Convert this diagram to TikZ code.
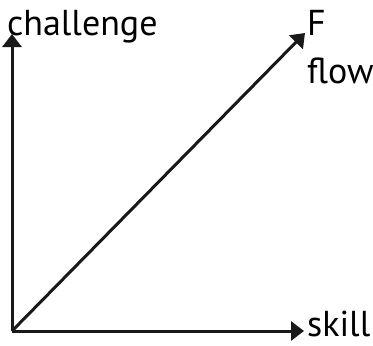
\documentclass[tikz,border=0pt]{standalone}
\usepackage{fontspec}
\setmainfont{PT Sans}
\usetikzlibrary{arrows.meta}

\begin{document}
\begin{tikzpicture}[x=1pt,y=-1pt,
    axis/.style={line width=3pt,color=black!90,-{Triangle[length=13pt,width=19pt]}},
    lbl/.style={anchor=base west,inner sep=0pt,font=\fontsize{36}{42}\selectfont}]
\useasboundingbox (0,0) rectangle (373,346);

% Origin and arrow ends
\coordinate (origin) at (12,331);
\coordinate (ytip) at (12,34);
\coordinate (xtip) at (304,331);
\coordinate (ftip) at (305,33);

% Axes and flow line
\draw[axis] (origin) -- (ytip);
\draw[axis] (origin) -- (xtip);
\draw[axis] (origin) -- (ftip);

% Labels
\node[lbl] (challenge) at (7,35) {challenge};
\node[lbl] (F) at (307,35) {F};
\node[lbl] (flow) at (307,83) {flow};
\node[lbl] (skill) at (307,336) {skill};
\end{tikzpicture}
\end{document}
